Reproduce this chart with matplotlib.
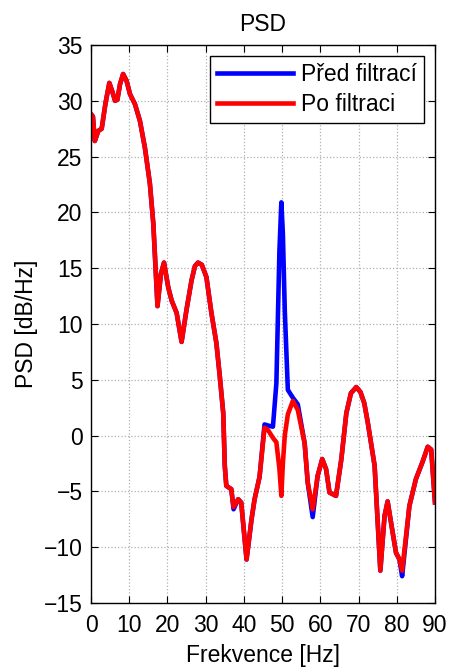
import matplotlib
matplotlib.use('Agg')
import matplotlib.pyplot as plt

plt.rcParams['font.family'] = ['Liberation Sans', 'DejaVu Sans']

# frekvence a PSD
f = [0.0, 0.5, 1.0, 1.9, 2.8, 3.8, 4.8, 5.6, 6.3, 6.9, 7.6, 8.4, 9.3, 10.2,
     11.5, 12.8, 14.1, 15.4, 16.3, 17.4, 18.3, 19.1, 20.2, 21.1, 22.4, 23.7,
     25.0, 26.3, 27.2, 28.0, 29.0, 30.2, 31.5, 32.8, 33.7, 34.6, 35.0, 35.4,
     36.7, 37.3, 38.5, 39.3, 40.7, 42.0, 42.8, 44.1, 45.4, 46.3, 47.6, 48.5,
     49.3, 49.8, 50.2, 50.7, 51.5, 52.8, 54.1, 55.9, 56.7, 58.0, 59.3, 60.5,
     61.5, 62.4, 64.1, 65.5, 66.8, 68.0, 69.4, 70.5, 71.5, 72.4, 74.2, 75.7,
     76.8, 77.6, 78.5, 79.8, 80.7, 81.4, 83.3, 85.0, 86.8, 88.1, 89.0, 90.0]

psd_po = [28.8, 28.6, 26.4, 27.3, 27.5, 29.8, 31.6, 30.8, 30.0, 30.1, 31.5,
          32.4, 31.8, 30.6, 29.7, 28.2, 25.8, 22.6, 19.0, 11.6, 14.5, 15.5,
          13.3, 12.1, 11.0, 8.4, 11.3, 13.9, 15.2, 15.5, 15.3, 14.2, 11.0,
          8.3, 5.3, 2.0, -2.7, -4.5, -4.8, -6.4, -5.7, -6.0, -11.1, -7.5,
          -5.7, -3.7, 0.7, 0.5, -0.2, -0.6, -3.0, -5.4, -2.5, 0.0, 1.9, 3.1,
          2.3, -0.7, -4.2, -6.6, -3.6, -2.1, -3.0, -5.1, -5.4, -2.1, 2.0,
          3.8, 4.35, 3.9, 2.9, 1.2, -2.7, -12.1, -7.2, -5.9, -7.8, -10.5,
          -11.1, -12.1, -6.3, -3.9, -2.3, -1.0, -1.25, -6.0]

psd_pred = [28.8, 28.6, 26.4, 27.3, 27.5, 29.8, 31.6, 30.8, 30.0, 30.1, 31.5,
            32.4, 31.8, 30.6, 29.7, 28.2, 25.8, 22.6, 19.0, 11.6, 14.5, 15.5,
            13.3, 12.1, 11.0, 8.4, 11.3, 13.9, 15.2, 15.5, 15.3, 14.2, 11.0,
            8.3, 5.3, 2.0, -2.7, -4.5, -4.8, -6.6, -5.7, -6.0, -11.1, -7.5,
            -5.7, -3.7, 1.0, 0.9, 0.8, 4.7, 16.6, 20.9, 18.1, 11.2, 4.1, 3.4,
            2.8, -0.7, -4.2, -7.3, -3.6, -2.1, -3.0, -5.1, -5.4, -2.1, 2.0,
            3.8, 4.35, 3.9, 2.9, 1.2, -2.7, -12.1, -7.2, -5.9, -7.8, -10.5,
            -11.1, -12.6, -6.3, -3.9, -2.3, -1.0, -1.25, -6.0]

xticks = [0, 10, 20, 30, 40, 50, 60, 70, 80, 90]
yticks = [-15, -10, -5, 0, 5, 10, 15, 20, 25, 30, 35]

fig = plt.figure(figsize=(4.53, 6.69), dpi=100)
ax = fig.add_axes([91/453, 66/669, 344/453, 558/669])

ax.plot(f, psd_pred, color=(0, 0, 1), lw=3.3, label='Před filtrací')
ax.plot(f, psd_po, color=(1, 0, 0), lw=3.3, label='Po filtraci')

ax.set_xlim(0, 90)
ax.set_ylim(-15, 35)
ax.set_xticks(xticks)
ax.set_yticks(yticks)
ax.grid(True, linestyle=':', color='#b0b0b0', lw=0.9)
ax.tick_params(direction='in', length=5, labelsize=16.5, top=True, right=True)
ax.tick_params(axis='x', pad=8)
ax.tick_params(axis='y', pad=6)
for s in ax.spines.values():
    s.set_linewidth(1.0)

ax.set_title('PSD', fontsize=16.5, pad=10)
ax.set_xlabel('Frekvence [Hz]', fontsize=16.5, labelpad=5)
ax.set_ylabel('PSD [dB/Hz]', fontsize=16.5, labelpad=4)

leg = ax.legend(loc='upper right', fontsize=16.5, handlelength=3.3,
                fancybox=False, framealpha=1, edgecolor='black',
                borderaxespad=0.5, labelspacing=0.3, handletextpad=0.35,
                borderpad=0.3)
leg.get_frame().set_linewidth(1.0)

fig.savefig('out.png', dpi=100)
